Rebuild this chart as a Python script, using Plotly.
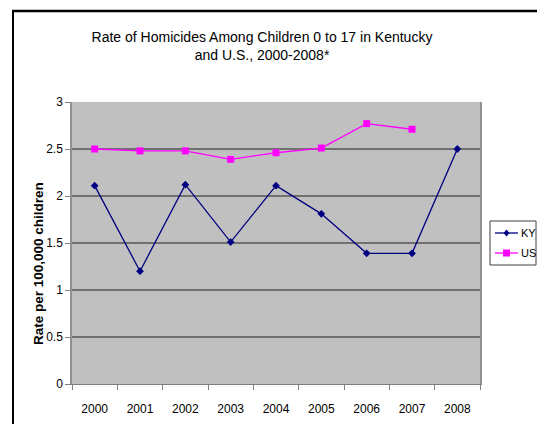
import plotly.graph_objects as go

years = ["2000", "2001", "2002", "2003", "2004", "2005", "2006", "2007", "2008"]
ky_rate = [2.11, 1.20, 2.12, 1.51, 2.11, 1.81, 1.39, 1.39, 2.50]
us_rate = [2.50, 2.48, 2.48, 2.39, 2.46, 2.51, 2.77, 2.71, None]
y_ticks = [0, 0.5, 1, 1.5, 2, 2.5, 3]
y_tick_text = ["0", "0.5", "1", "1.5", "2", "2.5", "3"]

KY_COLOR = "#000080"
US_COLOR = "#FF00FF"

W, H = 537, 424
L, R, T, B = 72, 57, 102, 40
pw, ph = W - L - R, H - T - B


def px_x(x):
    return (x - L) / pw


def px_y(y):
    return (H - B - y) / ph


fig = go.Figure()
fig.add_trace(go.Scatter(
    x=years, y=ky_rate, name="KY", mode="lines+markers",
    line=dict(color=KY_COLOR, width=1.3),
    marker=dict(symbol="diamond", size=6, color=KY_COLOR),
))
fig.add_trace(go.Scatter(
    x=years, y=us_rate, name="US", mode="lines+markers",
    line=dict(color=US_COLOR, width=1.3),
    marker=dict(symbol="square", size=7, color=US_COLOR),
))

# outer chart-area frame (top and left edges; the rest runs off the page)
fig.add_shape(type="line", xref="paper", yref="paper",
              x0=px_x(12), x1=px_x(W + 10), y0=px_y(11), y1=px_y(11),
              line=dict(color="black", width=2.5))
fig.add_shape(type="line", xref="paper", yref="paper",
              x0=px_x(13), x1=px_x(13), y0=px_y(10), y1=px_y(H + 10),
              line=dict(color="black", width=2))

# y-axis title
fig.add_annotation(
    text="<b>Rate per 100,000 children</b>", textangle=-90,
    xref="paper", yref="paper", x=px_x(38), y=px_y(264),
    xanchor="center", yanchor="middle", showarrow=False,
    font=dict(family="Arial, sans-serif", size=13.5, color="black"),
)

# compact legend box with short sample lines
fig.add_shape(type="rect", xref="paper", yref="paper",
              x0=px_x(490), x1=px_x(536), y0=px_y(265), y1=px_y(221),
              line=dict(color="#404040", width=1), fillcolor="white")
for name, color, row_y, symbol in [("KY", KY_COLOR, 233, "diamond"),
                                   ("US", US_COLOR, 253, "square")]:
    fig.add_shape(type="line", xref="paper", yref="paper",
                  x0=px_x(495), x1=px_x(518), y0=px_y(row_y), y1=px_y(row_y),
                  line=dict(color=color, width=1.3))
    if symbol == "square":
        fig.add_shape(type="rect", xref="paper", yref="paper",
                      x0=px_x(503), x1=px_x(510), y0=px_y(row_y + 3.5), y1=px_y(row_y - 3.5),
                      line=dict(width=0), fillcolor=color)
    else:
        cx, cy = px_x(506.5), px_y(row_y)
        dx, dy = 3 / pw, 3.5 / ph
        fig.add_shape(type="path", xref="paper", yref="paper",
                      path=f"M {cx - dx} {cy} L {cx} {cy + dy} L {cx + dx} {cy} L {cx} {cy - dy} Z",
                      line=dict(width=0), fillcolor=color)
    fig.add_annotation(text=name, xref="paper", yref="paper",
                       x=px_x(519), y=px_y(row_y), xanchor="left", yanchor="middle",
                       showarrow=False,
                       font=dict(family="Arial, sans-serif", size=11, color="black"))

fig.update_layout(
    width=W, height=H,
    margin=dict(l=L, r=R, t=T, b=B, autoexpand=False),
    paper_bgcolor="white",
    plot_bgcolor="#C0C0C0",
    font=dict(family="Arial, sans-serif", size=12, color="black"),
    title=dict(
        text="Rate of Homicides Among Children 0 to 17 in Kentucky<br>and U.S., 2000-2008*",
        x=262 / W, xanchor="center", y=1 - 42 / H, yanchor="middle",
        font=dict(family="Arial, Liberation Sans, sans-serif", size=14),
    ),
    showlegend=False,
    xaxis=dict(
        type="category", range=[-0.5, 8.5],
        showgrid=False, zeroline=False,
        showline=True, linecolor="#808080", linewidth=1,
        ticks="outside", tickson="boundaries", ticklen=5, tickcolor="#808080",
        tickfont=dict(family="Arial, sans-serif", size=12),
        ticklabelstandoff=14,
    ),
    yaxis=dict(
        range=[0, 3], tickvals=y_ticks, ticktext=y_tick_text,
        showgrid=True, gridcolor="#707070", gridwidth=1.5,
        zeroline=False,
        showline=True, linecolor="#909090", linewidth=1.5, mirror=True,
        ticks="outside", ticklen=5, tickcolor="#808080",
        tickfont=dict(family="Arial, sans-serif", size=12),
    ),
)

fig.write_html("out.html", config={"displayModeBar": False})
